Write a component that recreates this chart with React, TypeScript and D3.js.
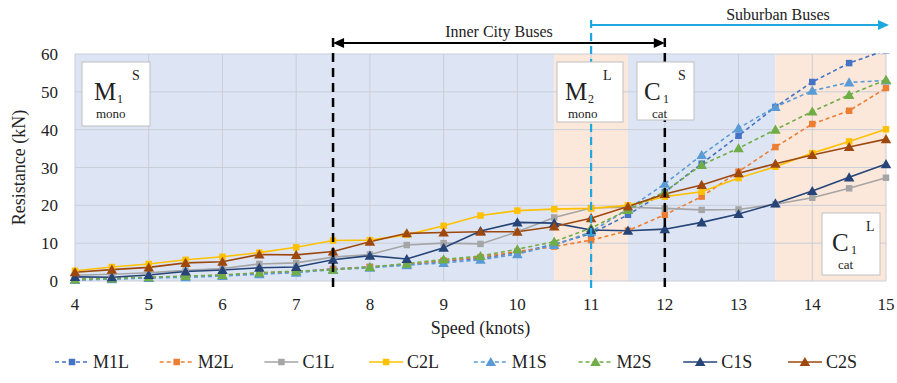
import React from "react";
import * as d3 from "d3";

// speeds (knots)
const speeds = [4, 4.5, 5, 5.5, 6, 6.5, 7, 7.5, 8, 8.5, 9, 9.5, 10, 10.5, 11, 11.5, 12, 12.5, 13, 13.5, 14, 14.5, 15];

// resistance (kN) per series
const m1l = [0.3, 0.6, 0.9, 1.1, 1.5, 2.0, 2.4, 3.2, 3.7, 4.3, 5.2, 6.0, 7.5, 9.7, 12.5, 17.5, 23.5, 31, 38.4, 46, 52.6, 57.6, 61];
const m2l = [0.4, 0.6, 0.9, 1.2, 1.5, 2.1, 2.5, 3.1, 3.7, 4.4, 5.4, 6.3, 7.8, 9.1, 10.8, 13.3, 17.5, 22.3, 28.9, 35.4, 41.5, 45, 51];
const c1l = [1.5, 1.8, 2.2, 2.8, 3.3, 4.5, 4.8, 6.3, 7.0, 9.5, 10, 9.8, 13, 16.8, 19.3, 19.5, 19.2, 18.8, 18.9, 20.3, 22, 24.5, 27.3];
const c2l = [2.7, 3.7, 4.5, 5.6, 6.4, 7.5, 8.9, 10.7, 10.8, 12.2, 14.6, 17.3, 18.6, 19, 19.2, 20, 22.3, 23.6, 27.2, 30.2, 33.8, 36.9, 40.1];
const m1s = [0.3, 0.5, 0.8, 1.0, 1.3, 1.8, 2.2, 3.0, 3.5, 4.2, 4.8, 5.6, 7.1, 9.5, 13, 19, 25.7, 33.3, 40.4, 46, 50.3, 52.5, 53];
const m2s = [0.4, 0.7, 1.0, 1.3, 1.6, 2.2, 2.6, 3.0, 3.7, 4.6, 5.7, 6.6, 8.4, 10.4, 14, 18.8, 23.6, 30.7, 35.1, 40, 44.8, 49.2, 53.2];
const c1s = [1.1, 1.0, 1.6, 2.5, 2.9, 3.5, 3.7, 5.6, 6.7, 5.8, 8.8, 13.2, 15.5, 15.3, 13.5, 13.3, 13.7, 15.5, 17.7, 20.5, 23.8, 27.4, 30.9];
const c2s = [2.3, 3.0, 3.6, 4.8, 5.1, 7.0, 6.9, 7.8, 10.4, 12.6, 12.8, 13, 13, 14.4, 16.6, 19.7, 23, 25.4, 28.5, 31, 33.3, 35.4, 37.5];

const xTicks = [4, 5, 6, 7, 8, 9, 10, 11, 12, 13, 14, 15];
const yTicks = [0, 10, 20, 30, 40, 50, 60];

const seriesNames = ["M1L", "M2L", "C1L", "C2L", "M1S", "M2S", "C1S", "C2S"];
const seriesValues = [m1l, m2l, c1l, c2l, m1s, m2s, c1s, c2s];
const seriesColors = ["#4472C4", "#ED7D31", "#A5A5A5", "#FFC000", "#5B9BD5", "#70AD47", "#264478", "#9E480E"];
const seriesDashed = [true, true, false, false, true, true, false, false];
const seriesShape = ["square", "square", "square", "square", "triangle", "triangle", "triangle", "triangle"];

// shaded speed bands
const bands = [
  { from: 4, to: 10.5, fill: "#dde5f4" },
  { from: 10.5, to: 11.5, fill: "#fbe8db" },
  { from: 11.5, to: 13.5, fill: "#dde5f4" },
  { from: 13.5, to: 15, fill: "#fbe8db" },
];

const W = 897;
const H = 383;
const margin = { top: 54, right: 11, bottom: 102, left: 75 };
const FONT = "Liberation Serif, Times New Roman, DejaVu Serif, serif";
const txt = { fontFamily: FONT };

const x = d3.scaleLinear().domain([4, 15]).range([margin.left, W - margin.right]);
const y = d3.scaleLinear().domain([0, 60]).range([H - margin.bottom, margin.top]);

const squarePath = d3.symbol(d3.symbolSquare, 42)()!;
const trianglePath = d3.symbol(d3.symbolTriangle, 48)()!;

const Marker = ({ shape, color, cx, cy }: { shape: string; color: string; cx: number; cy: number }) => (
  <path
    d={shape === "square" ? squarePath : trianglePath}
    transform={`translate(${cx},${cy + (shape === "triangle" ? 1 : 0)})`}
    fill={color}
  />
);

interface BoxProps {
  x0: number; y0: number; w: number; h: number;
  main: string; sub: string; sup: string; note: string;
  mx: number; sx: number; px: number; nx: number;
}

const LabelBox = ({ x0, y0, w, h, main, sub, sup, note, mx, sx, px, nx }: BoxProps) => (
  <g style={txt} fill="#222">
    <rect x={x0} y={y0} width={w} height={h} fill="#fff" stroke="#bfbfbf" strokeWidth={1} />
    <text x={x0 + mx} y={y0 + 38} fontSize={25}>{main}</text>
    <text x={x0 + sx} y={y0 + 41} fontSize={12}>{sub}</text>
    <text x={x0 + px} y={y0 + 18} fontSize={14}>{sup}</text>
    <text x={x0 + nx} y={y0 + 56} fontSize={13}>{note}</text>
  </g>
);

export default function App() {
  const line = d3
    .line<number>()
    .x((_, i) => x(speeds[i]))
    .y((d) => y(d));

  const plotTop = y(60);
  const plotBottom = y(0);

  return (
    <svg width={W} height={H} style={{ position: "absolute", left: 0, top: 0, background: "#fff" }}>
      <style>{`body{margin:0}`}</style>
      <defs>
        <clipPath id="plot">
          <rect x={x(4) - 6} y={plotTop - 1} width={x(15) - x(4) + 12} height={plotBottom - plotTop + 8} />
        </clipPath>
      </defs>

      {bands.map((b) => (
        <rect key={b.from} x={x(b.from)} y={plotTop} width={x(b.to) - x(b.from)} height={plotBottom - plotTop} fill={b.fill} />
      ))}

      {/* grid */}
      {yTicks.map((t) => (
        <line key={"gy" + t} x1={x(4)} x2={x(15)} y1={y(t)} y2={y(t)} stroke="#c9ced8" strokeWidth={1} />
      ))}
      {xTicks.map((t) => (
        <line key={"gx" + t} x1={x(t)} x2={x(t)} y1={plotTop} y2={plotBottom} stroke="#c9ced8" strokeWidth={1} />
      ))}

      {/* tick labels */}
      <g style={txt} fontSize={17} fill="#222">
        {yTicks.map((t) => (
          <text key={"ty" + t} x={x(4) - 17} y={y(t) + 6} textAnchor="end">{t}</text>
        ))}
        {xTicks.map((t) => (
          <text key={"tx" + t} x={x(t)} y={plotBottom + 29} textAnchor="middle">{t}</text>
        ))}
      </g>

      <text x={0} y={0} transform={`translate(25,${(plotTop + plotBottom) / 2}) rotate(-90)`} textAnchor="middle" style={txt} fontSize={18} fill="#222">
        Resistance (kN)
      </text>
      <text x={(x(4) + x(15)) / 2} y={334} textAnchor="middle" style={txt} fontSize={18} fill="#222">
        Speed (knots)
      </text>

      {/* series */}
      <g clipPath="url(#plot)">
        {seriesValues.map((vals, si) => (
          <path
            key={"l" + si}
            d={line(vals)!}
            fill="none"
            stroke={seriesColors[si]}
            strokeWidth={1.6}
            strokeDasharray={seriesDashed[si] ? "4,3" : undefined}
          />
        ))}
        {seriesValues.map((vals, si) =>
          vals.map((v, i) => (
            <Marker key={`m${si}-${i}`} shape={seriesShape[si]} color={seriesColors[si]} cx={x(speeds[i])} cy={y(v)} />
          ))
        )}
      </g>

      {/* speed range markers */}
      <line x1={x(7.5)} x2={x(7.5)} y1={38} y2={292} stroke="#000" strokeWidth={2.5} strokeDasharray="9,6" />
      <line x1={x(12)} x2={x(12)} y1={38} y2={292} stroke="#000" strokeWidth={2.5} strokeDasharray="9,6" />
      <line x1={x(11)} x2={x(11)} y1={20} y2={292} stroke="#1fa8e0" strokeWidth={2.2} strokeDasharray="8,5" />

      <line x1={x(7.5) + 2} x2={x(12) - 2} y1={43} y2={43} stroke="#000" strokeWidth={1.8} />
      <path d={`M${x(7.5)},43 l11,-5 v10 z`} fill="#000" />
      <path d={`M${x(12)},43 l-11,-5 v10 z`} fill="#000" />
      <text x={(x(7.5) + x(12)) / 2} y={37} textAnchor="middle" style={txt} fontSize={16} fill="#222">Inner City Buses</text>

      <line x1={x(11)} x2={W - 10} y1={25} y2={25} stroke="#1fa8e0" strokeWidth={1.8} />
      <path d={`M${W - 8},25 l-11,-5 v10 z`} fill="#1fa8e0" />
      <text x={778} y={20} textAnchor="middle" style={txt} fontSize={16} fill="#222">Suburban Buses</text>

      {/* vessel label boxes */}
      <LabelBox x0={82} y0={62} w={68} h={64} main="M" sub="1" sup="S" note="mono" mx={12} sx={35} px={50} nx={14} />
      <LabelBox x0={557} y0={62} w={66} h={60} main="M" sub="2" sup="L" note="mono" mx={8} sx={31} px={46} nx={11} />
      <LabelBox x0={637} y0={62} w={57} h={58} main="C" sub="1" sup="S" note="cat" mx={7} sx={26} px={41} nx={15} />
      <LabelBox x0={822} y0={213} w={58} h={62} main="C" sub="1" sup="L" note="cat" mx={10} sx={29} px={44} nx={16} />

      {/* legend */}
      <g style={txt} fontSize={18} fill="#222">
        {seriesNames.map((name, si) => {
          const lx = 55 + si * 104.7;
          const ly = 362;
          return (
            <g key={name}>
              <line x1={lx} x2={lx + 34} y1={ly} y2={ly} stroke={seriesColors[si]} strokeWidth={1.6} strokeDasharray={seriesDashed[si] ? "4,3" : undefined} />
              <Marker shape={seriesShape[si]} color={seriesColors[si]} cx={lx + 17} cy={ly} />
              <text x={lx + 38} y={ly + 6}>{name}</text>
            </g>
          );
        })}
      </g>
    </svg>
  );
}
